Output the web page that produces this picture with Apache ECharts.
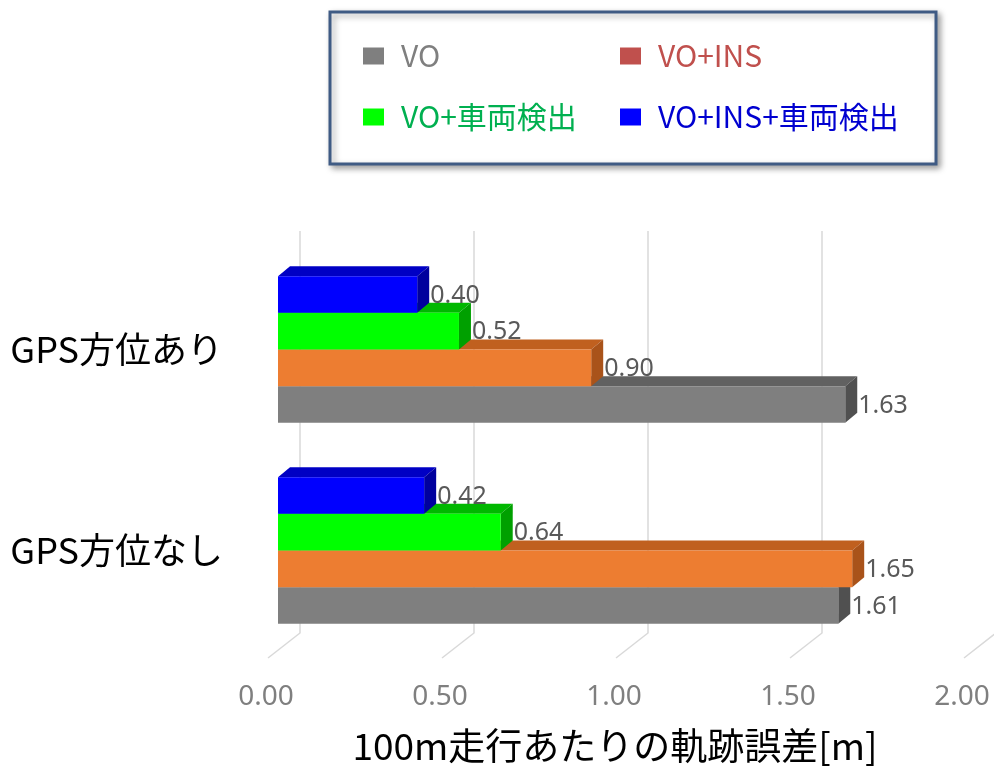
<!DOCTYPE html>
<html>
<head>
<meta charset="utf-8">
<script src="https://cdn.jsdelivr.net/npm/echarts@6/dist/echarts.min.js"></script>
<style>
  html, body { margin: 0; padding: 0; background: #ffffff; }
  #chart { width: 994px; height: 767px; }
</style>
</head>
<body>
<div id="chart"></div>
<script>
// Trajectory error per 100 m of driving, by method and GPS heading availability
const categories = ['GPS方位あり', 'GPS方位なし'];
const seriesNames = ['VO', 'VO+INS', 'VO+車両検出', 'VO+INS+車両検出'];
const voValues = [1.63, 1.61];
const voInsValues = [0.90, 1.65];
const voCarValues = [0.52, 0.64];
const voInsCarValues = [0.40, 0.42];
const xTicks = [0, 0.5, 1.0, 1.5, 2.0];

const seriesValues = [voValues, voInsValues, voCarValues, voInsCarValues];

// face colours: front, top, side
const barColors = [
  { front: '#7f7f7f', top: '#616161', side: '#505050' },
  { front: '#ed7d31', top: '#c0601f', side: '#a9531a' },
  { front: '#00ff00', top: '#00b800', side: '#00a000' },
  { front: '#0000ff', top: '#0000c4', side: '#00009e' }
];
const legendIconColors = ['#7f7f7f', '#c0504d', '#00ff00', '#0000ff'];
const legendTextColors = ['#7f7f7f', '#c0504d', '#00b050', '#0000d0'];

// oblique depth offsets
const barDepth = [12, -10];
const backWall = [22, -18];
const floorFront = [-10, 7];

const chart = echarts.init(document.getElementById('chart'), null, { renderer: 'canvas' });

function barRenderer(seriesIndex) {
  return function (params, api) {
    const v = api.value(0);
    const c = api.value(1);
    const p0 = api.coord([0, c]);
    const p1 = api.coord([v, c]);
    const band = Math.abs(api.size([0, 1])[1]);
    const barH = band * 0.73 / 4;
    const cy = p0[1] + (1.5 - seriesIndex) * barH;
    const yt = cy - barH / 2;
    const yb = cy + barH / 2;
    const x0 = p0[0];
    const x1 = p1[0];
    const dx = barDepth[0], dy = barDepth[1];
    const col = barColors[seriesIndex];
    return {
      type: 'group',
      children: [
        {
          type: 'polygon',
          shape: { points: [[x0, yt], [x1, yt], [x1 + dx, yt + dy], [x0 + dx, yt + dy]] },
          style: { fill: col.top }
        },
        {
          type: 'polygon',
          shape: { points: [[x1, yt], [x1 + dx, yt + dy], [x1 + dx, yb + dy], [x1, yb]] },
          style: { fill: col.side }
        },
        {
          type: 'rect',
          shape: { x: x0, y: yt, width: x1 - x0, height: yb - yt },
          style: { fill: col.front }
        },
        {
          type: 'text',
          style: {
            text: v.toFixed(2),
            x: x1 + dx + 1,
            y: cy + 1,
            fill: '#595959',
            fontSize: 25,
            fontFamily: 'Noto Sans',
            align: 'left',
            verticalAlign: 'middle'
          }
        }
      ]
    };
  };
}

function gridRenderer(params, api) {
  const v = api.value(0);
  const cs = params.coordSys;
  const x = api.coord([v, 0])[0];
  const top = cs.y;
  const bottom = cs.y + cs.height;
  const bx = x + backWall[0];
  return {
    type: 'group',
    children: [
      {
        type: 'polyline',
        shape: {
          points: [
            [bx, top + backWall[1]],
            [bx, bottom + backWall[1]],
            [x + floorFront[0], bottom + floorFront[1]]
          ]
        },
        style: { stroke: '#d9d9d9', lineWidth: 1.5, fill: null }
      }
    ]
  };
}

const series = [
  {
    type: 'custom',
    name: 'grid',
    renderItem: gridRenderer,
    data: xTicks.map(t => [t, 0]),
    encode: { x: 0, y: 1 },
    clip: false,
    silent: true,
    z: 1
  }
];
seriesNames.forEach((name, i) => {
  series.push({
    type: 'custom',
    name: name,
    renderItem: barRenderer(i),
    data: seriesValues[i].map((v, c) => [v, c]),
    encode: { x: 0, y: 1 },
    clip: false,
    itemStyle: { color: legendIconColors[i] },
    z: 2 + i
  });
});

const legendPos = [
  { left: 363, top: 40 },
  { left: 620, top: 40 },
  { left: 363, top: 101 },
  { left: 620, top: 101 }
];
const legends = seriesNames.map((name, i) => ({
  left: legendPos[i].left,
  top: legendPos[i].top,
  padding: 0,
  icon: 'rect',
  itemWidth: 21,
  itemHeight: 17,
  selectedMode: false,
  data: [{ name: name, itemStyle: { color: legendIconColors[i] } }],
  textStyle: {
    color: legendTextColors[i],
    fontSize: 30,
    lineHeight: 32,
    fontFamily: 'Noto Sans CJK JP',
    padding: [0, 0, 0, 12]
  }
}));

const option = {
  backgroundColor: '#ffffff',
  animation: false,
  graphic: [
    {
      type: 'rect',
      shape: { x: 330, y: 12, width: 606, height: 152 },
      style: {
        fill: '#ffffff',
        stroke: '#3f5b84',
        lineWidth: 3,
        shadowBlur: 6,
        shadowOffsetX: 3,
        shadowOffsetY: 3,
        shadowColor: 'rgba(0,0,0,0.35)'
      },
      z: 0
    }
  ],
  legend: legends,
  grid: {
    left: 278, top: 249, width: 696, height: 402,
    containLabel: false,
    outerBoundsMode: 'none'
  },
  xAxis: {
    type: 'value',
    min: 0,
    max: 2,
    interval: 0.5,
    axisLine: { show: false },
    axisTick: { show: false },
    splitLine: { show: false },
    axisLabel: {
      margin: 32,
      fontSize: 28,
      color: '#7f7f7f',
      fontFamily: 'Noto Sans',
      padding: [0, 24, 0, 0],
      formatter: v => v.toFixed(2)
    },
    name: '100m走行あたりの軌跡誤差[m]',
    nameLocation: 'middle',
    nameGap: 76,
    nameTextStyle: {
      fontSize: 37,
      color: '#000000',
      fontFamily: 'Noto Sans CJK JP',
      padding: [0, 22, 0, 0]
    }
  },
  yAxis: {
    type: 'category',
    data: categories,
    inverse: true,
    axisLine: { show: false },
    axisTick: { show: false },
    splitLine: { show: false },
    axisLabel: {
      margin: 55,
      fontSize: 36,
      color: '#000000',
      fontFamily: 'Noto Sans CJK JP'
    }
  },
  series: series
};

chart.setOption(option);
</script>
</body>
</html>
